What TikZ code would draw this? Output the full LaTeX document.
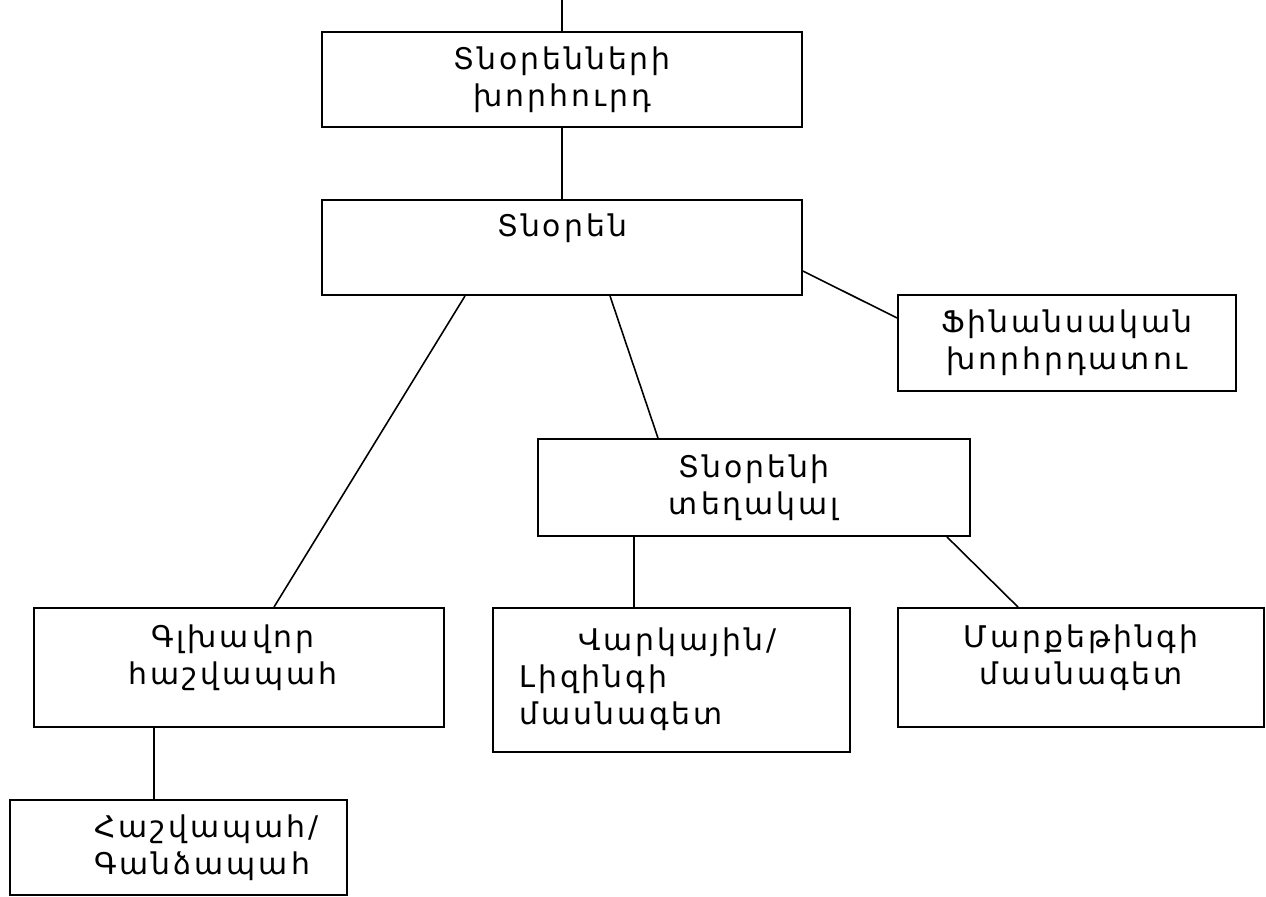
\documentclass[tikz,border=0pt]{standalone}
\usepackage{fontspec}
\setmainfont{DejaVu Sans}[LetterSpace=10]
\usetikzlibrary{calc}

\begin{document}
\begin{tikzpicture}[x=0.02cm, y=-0.02cm,
	orgbox/.style={draw, line width=1.1pt, inner sep=0pt,
		font=\fontsize{17}{21}\selectfont, align=center},
	orgtext/.style={font=\fontsize{17}{21}\selectfont, align=center},
	link/.style={line width=0.9pt}]

	\useasboundingbox (0,0) rectangle (1266,896);

	\coordinate (top) at (562,0);

	% boxes
	\node[orgbox, minimum width=9.6cm, minimum height=1.9cm]
	(board) at (562,79.5) {Տնօրենների\\խորհուրդ};
	\node[orgbox, minimum width=9.6cm, minimum height=1.9cm]
	(dir) at (562,247.5) {};
	\node[orgbox, minimum width=6.76cm, minimum height=1.92cm]
	(fin) at (1067,343) {Ֆինանսական\\խորհրդատու};
	\node[orgbox, minimum width=8.64cm, minimum height=1.94cm]
	(dep) at (754,487.5) {Տնօրենի\\տեղակալ};
	\node[orgbox, minimum width=8.2cm, minimum height=2.38cm]
	(chief) at (239,667.5) {};
	\node[orgbox, minimum width=7.14cm, minimum height=2.88cm]
	(credit) at (671.5,680) {};
	\node[orgbox, minimum width=7.32cm, minimum height=2.38cm]
	(mkt) at (1081,667.5) {};
	\node[orgbox, minimum width=6.74cm, minimum height=1.9cm]
	(acct) at (178.5,847.5) {};

	% texts near the top of their boxes
	\node[orgtext] (dirtext) at (562,228) {Տնօրեն};
	\node[orgtext] (chieftext) at (233,658) {Գլխավոր\\հաշվապահ};
	\node[orgtext, align=left, anchor=west] (credittext) at (513,679)
	{\hspace*{1.18cm}Վարկային/\\Լիզինգի\\մասնագետ};
	\node[orgtext] (mkttext) at (1081,658) {Մարքեթինգի\\մասնագետ};
	\node[orgtext, align=left, anchor=west] (accttext) at (88,848)
	{Հաշվապահ/\\Գանձապահ};

	% links
	\draw[link] (top) -- (board);
	\draw[link] (board) -- (dir);
	\draw[link] ($(dir.east)+(0,23.5)$) -- ($(fin.west)+(0,-25)$);
	\draw[link] ($(dir.south)+(-97,0)$) -- ($(chief.north)+(35,0)$);
	\draw[link] ($(dir.south)+(48,0)$) -- ($(dep.north)+(-96,0)$);
	\draw[link] ($(dep.south)+(-120,0)$) -- ($(credit.north)+(-37.5,0)$);
	\draw[link] ($(dep.south)+(193,0)$) -- ($(mkt.north)+(-63,0)$);
	\draw[link] ($(chief.south)+(-85,0)$) -- ($(acct.north)+(-24.5,0)$);

\end{tikzpicture}
\end{document}
